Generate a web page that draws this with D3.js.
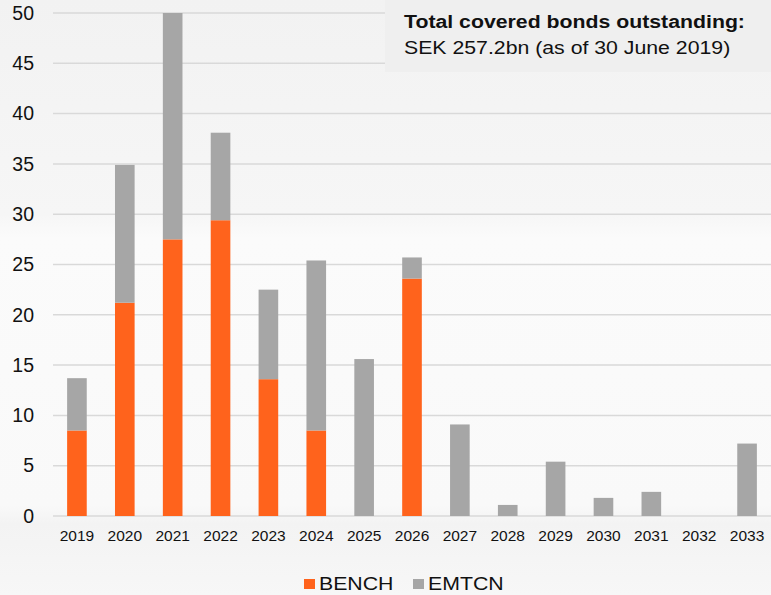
<!DOCTYPE html>
<html>
<head>
<meta charset="utf-8">
<script src="https://cdn.jsdelivr.net/npm/d3@7"></script>
<style>
  body { margin: 0; background: #fff; }
  svg { display: block; font-family: "Liberation Sans", Arial, sans-serif; }
</style>
</head>
<body>
<svg id="chart" width="771" height="595"></svg>
<script>
// maturity profile, SEK bn
var years = ["2019","2020","2021","2022","2023","2024","2025","2026","2027","2028","2029","2030","2031","2032","2033"];
var bench = [8.5, 21.2, 27.5, 29.4, 13.6, 8.5, 0, 23.6, 0, 0, 0, 0, 0, 0, 0];
var emtcn = [5.2, 13.7, 22.5, 8.7, 8.9, 16.9, 15.6, 2.1, 9.1, 1.1, 5.4, 1.8, 2.4, 0, 7.2];
var yTicks = [0, 5, 10, 15, 20, 25, 30, 35, 40, 45, 50];
var seriesNames = ["BENCH", "EMTCN"];
var colors = ["#ff631c", "#a6a6a6"];

var width = 771, height = 595;
var margin = {top: 13, right: 0, bottom: 79, left: 53};
var stretch = 1.15; // text in the original is a bit wide

var svg = d3.select("#chart");

// soft grey background
var defs = svg.append("defs");
var grad = defs.append("linearGradient").attr("id", "bg").attr("x1", 0).attr("y1", 0).attr("x2", 0).attr("y2", 1);
grad.append("stop").attr("offset", "0").attr("stop-color", "#f2f2f2");
grad.append("stop").attr("offset", "0.36").attr("stop-color", "#f6f6f6");
grad.append("stop").attr("offset", "0.40").attr("stop-color", "#fbfbfb");
grad.append("stop").attr("offset", "0.85").attr("stop-color", "#f9f9f9");
grad.append("stop").attr("offset", "0.88").attr("stop-color", "#f3f3f3");
grad.append("stop").attr("offset", "1").attr("stop-color", "#f7f7f7");
svg.append("rect").attr("width", width).attr("height", height).attr("fill", "url(#bg)");

var x = d3.scaleBand()
    .domain(years)
    .range([margin.left, width - margin.right])
    .paddingInner(0.59)
    .paddingOuter(0.295);

var y = d3.scaleLinear()
    .domain([0, 50])
    .range([height - margin.bottom, margin.top]);

// gridlines
svg.append("g")
    .selectAll("line")
    .data(yTicks)
    .enter()
    .append("line")
    .attr("x1", margin.left)
    .attr("x2", width - margin.right)
    .attr("y1", function(d) { return y(d); })
    .attr("y2", function(d) { return y(d); })
    .attr("stroke", "#d9d9d9")
    .attr("stroke-width", 1.5);

// y axis labels
var yAxis = svg.append("g")
    .attr("transform", "translate(" + margin.left + ",0)")
    .call(d3.axisLeft(y).tickValues(yTicks).tickSize(0).tickPadding(19));
yAxis.select(".domain").remove();
yAxis.selectAll("text")
    .attr("font-size", 19.5)
    .attr("font-family", "Liberation Sans, Arial, sans-serif")
    .attr("fill", "#111");

// x axis labels
var xAxis = svg.append("g")
    .attr("transform", "translate(0," + (height - margin.bottom) + ")")
    .call(d3.axisBottom(x).tickSize(0).tickPadding(14));
xAxis.select(".domain").remove();
xAxis.selectAll("text")
    .attr("font-size", 15.5)
    .attr("font-family", "Liberation Sans, Arial, sans-serif")
    .attr("fill", "#111");

// stacked bars
var rows = years.map(function(yr, i) { return {year: yr, BENCH: bench[i], EMTCN: emtcn[i]}; });
var stacked = d3.stack().keys(seriesNames)(rows);

svg.append("g")
    .selectAll("g")
    .data(stacked)
    .enter()
    .append("g")
    .attr("fill", function(d, i) { return colors[i]; })
    .selectAll("rect")
    .data(function(d) { return d; })
    .enter()
    .append("rect")
    .attr("x", function(d) { return x(d.data.year); })
    .attr("width", x.bandwidth())
    .attr("y", function(d) { return y(d[1]); })
    .attr("height", function(d) { return y(d[0]) - y(d[1]); });

// annotation box
svg.append("rect")
    .attr("x", 385).attr("y", 0)
    .attr("width", width - 385).attr("height", 72)
    .attr("fill", "#efefef");
svg.append("text")
    .attr("transform", "translate(404,27.5) scale(" + stretch + ",1)")
    .attr("font-size", 18.5).attr("font-weight", "bold").attr("fill", "#111")
    .text("Total covered bonds outstanding:");
svg.append("text")
    .attr("transform", "translate(404,53.5) scale(" + stretch + ",1)")
    .attr("font-size", 18.5).attr("fill", "#111")
    .text("SEK 257.2bn (as of 30 June 2019)");

// legend
var legX = [304, 413];
seriesNames.forEach(function(name, i) {
    svg.append("rect")
        .attr("x", legX[i]).attr("y", 579)
        .attr("width", 11).attr("height", 10)
        .attr("fill", colors[i]);
    svg.append("text")
        .attr("transform", "translate(" + (legX[i] + 15) + ",590) scale(" + stretch + ",1)")
        .attr("font-size", 18.5).attr("fill", "#111")
        .text(name);
});
</script>
</body>
</html>
